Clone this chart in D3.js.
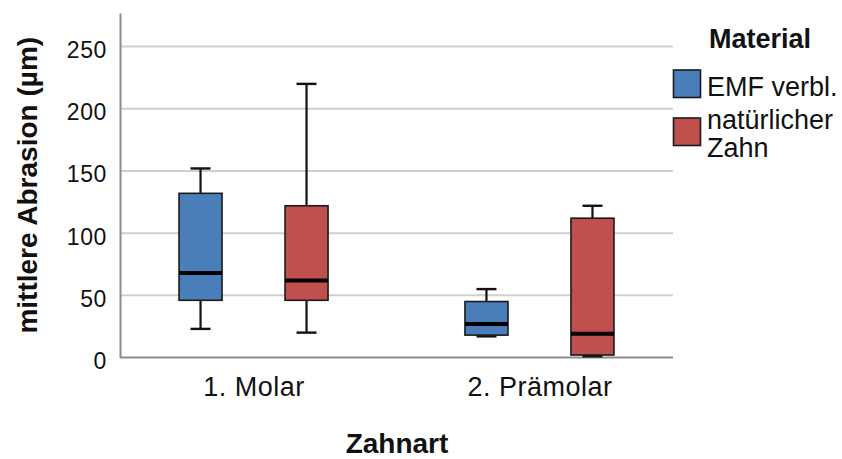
<!DOCTYPE html>
<html>
<head>
<meta charset="utf-8">
<script src="https://cdn.jsdelivr.net/npm/d3@7"></script>
<style>
  html, body { margin: 0; padding: 0; background: #fff; }
  svg { display: block; }
  text { font-family: "Liberation Sans", Arial, sans-serif; fill: #111; }
</style>
</head>
<body>
<svg id="chart" width="842" height="459"></svg>
<script>
// ---- data ----
const categories = ["1. Molar", "2. Prämolar"];
const seriesNames = ["EMF verbl.", "natürlicher Zahn"];
const seriesColors = ["#4a7ebb", "#c0504d"];
// [min, q1, median, q3, max] per category
const emfStats = [[23, 46, 68, 132, 152], [17, 18, 27, 45, 55]];
const naturalStats = [[20, 46, 62, 122, 220], [1, 2, 19, 112, 122]];
const yTicks = [0, 50, 100, 150, 200, 250];

const svg = d3.select("#chart");
const plotL = 120, plotR = 673, plotT = 13, plotB = 357.5;

const x = d3.scalePoint().domain(categories).range([plotL, plotR]).padding(0.467);
const sub = d3.scalePoint().domain(seriesNames).range([-53, 53]);
const y = d3.scaleLinear().domain([0, 277]).range([plotB, plotT]);

// gridlines
svg.append("g").selectAll("line").data(yTicks.filter(d => d > 0)).join("line")
  .attr("x1", plotL).attr("x2", plotR)
  .attr("y1", d => y(d)).attr("y2", d => y(d))
  .attr("stroke", "#cfcfcf").attr("stroke-width", 2);

// y axis
const yAxis = d3.axisLeft(y).tickValues(yTicks).tickSize(0).tickPadding(13);
const gy = svg.append("g").attr("transform", `translate(${plotL},0)`).call(yAxis);
gy.select(".domain").attr("stroke", "#8c8c8c").attr("stroke-width", 2);
gy.selectAll("text").attr("font-size", 23).attr("font-family", "Liberation Sans, Arial, sans-serif")
  .attr("fill", "#111").attr("dy", "0.48em").attr("letter-spacing", 0.6);

// x axis
const xAxis = d3.axisBottom(x).tickSize(0).tickPadding(19);
const gx = svg.append("g").attr("transform", `translate(0,${plotB})`).call(xAxis);
gx.select(".domain").attr("stroke", "#8c8c8c").attr("stroke-width", 2).attr("d", `M${plotL},0H${plotR}`);
gx.selectAll("text").attr("font-size", 27).attr("font-family", "Liberation Sans, Arial, sans-serif")
  .attr("fill", "#111").attr("letter-spacing", 0.5);

// boxes
const boxW = 43, capW = 20;
const allSeries = [emfStats, naturalStats];
allSeries.forEach((stats, si) => {
  const g = svg.append("g");
  stats.forEach((s, ci) => {
    const cx = x(categories[ci]) + sub(seriesNames[si]);
    const [mn, q1, md, q3, mx] = s;
    g.append("line").attr("x1", cx).attr("x2", cx).attr("y1", y(q3)).attr("y2", y(mx))
      .attr("stroke", "#111").attr("stroke-width", 2.2);
    g.append("line").attr("x1", cx).attr("x2", cx).attr("y1", y(q1)).attr("y2", y(mn))
      .attr("stroke", "#111").attr("stroke-width", 2.2);
    g.append("line").attr("x1", cx - capW / 2).attr("x2", cx + capW / 2).attr("y1", y(mx)).attr("y2", y(mx))
      .attr("stroke", "#111").attr("stroke-width", 2.4);
    g.append("line").attr("x1", cx - capW / 2).attr("x2", cx + capW / 2).attr("y1", y(mn)).attr("y2", y(mn))
      .attr("stroke", "#111").attr("stroke-width", 2.4);
    g.append("rect").attr("x", cx - boxW / 2).attr("width", boxW)
      .attr("y", y(q3)).attr("height", y(q1) - y(q3))
      .attr("fill", seriesColors[si]).attr("stroke", "#1a1a1a").attr("stroke-width", 1.6);
    g.append("line").attr("x1", cx - boxW / 2).attr("x2", cx + boxW / 2).attr("y1", y(md)).attr("y2", y(md))
      .attr("stroke", "#000").attr("stroke-width", 4);
  });
});

// axis titles
svg.append("text").attr("transform", `translate(37,${(plotT + plotB) / 2}) rotate(-90)`)
  .attr("text-anchor", "middle").attr("font-size", 28).attr("font-weight", "bold")
  .text("mittlere Abrasion (µm)");
svg.append("text").attr("x", 397).attr("y", 453)
  .attr("text-anchor", "middle").attr("font-size", 28).attr("font-weight", "bold")
  .text("Zahnart");

// legend
const lg = svg.append("g");
lg.append("text").attr("x", 709).attr("y", 47.5).attr("font-size", 27).attr("font-weight", "bold").text("Material");
const legendRows = [
  { lines: ["EMF verbl."], sy: 70, ty: 95.5 },
  { lines: ["natürlicher", "Zahn"], sy: 118, ty: 129 }
];
legendRows.forEach((r, i) => {
  lg.append("rect").attr("x", 673.5).attr("y", r.sy).attr("width", 27).attr("height", 27.5)
    .attr("fill", seriesColors[i]).attr("stroke", "#1a1a1a").attr("stroke-width", 1.6);
  const t = lg.append("text").attr("x", 707).attr("y", r.ty).attr("font-size", 27);
  r.lines.forEach((ln, k) => t.append("tspan").attr("x", 707).attr("dy", k === 0 ? 0 : 27.5).text(ln));
});
</script>
</body>
</html>
